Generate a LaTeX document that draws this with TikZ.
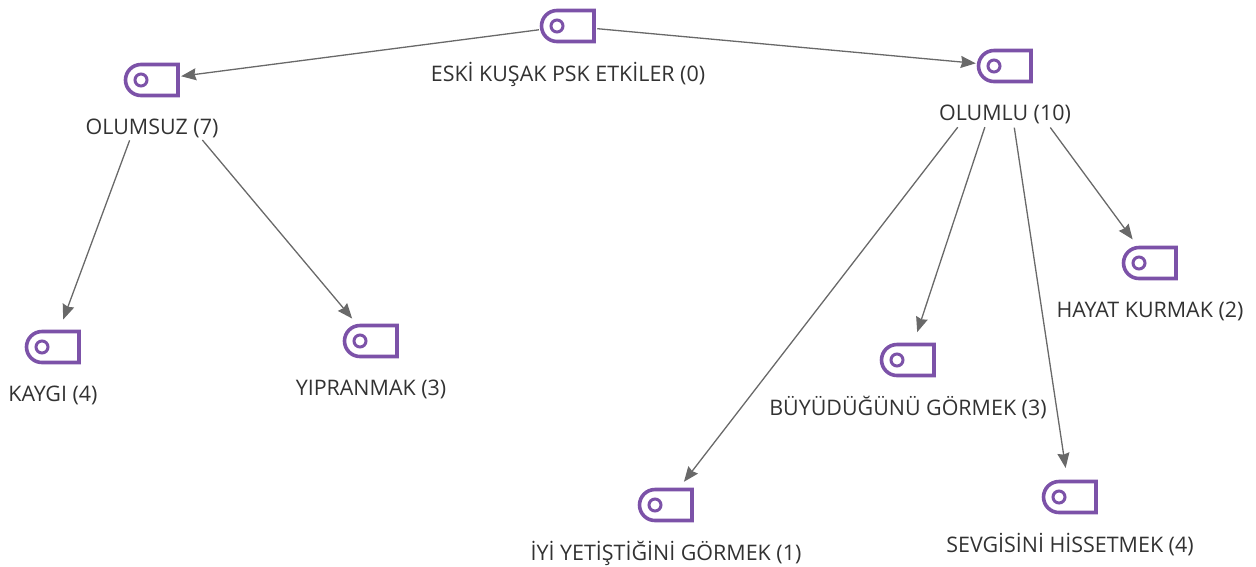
\documentclass[tikz,border=0pt]{standalone}
\usepackage{fontspec}
\setmainfont{Open Sans}
\usetikzlibrary{arrows, arrows.meta}
\usetikzlibrary{calc}
\definecolor{tagpurple}{RGB}{124,82,168}
\definecolor{linkgray}{RGB}{105,105,105}
\definecolor{textgray}{RGB}{50,50,50}
\def\u{0.02cm}
\tikzset{
  iconspot/.style={circle, inner sep=0pt, minimum size=58*\u},
  tagline/.style={draw=tagpurple, line width=3.6*\u, line join=miter},
  codelabel/.style={inner sep=0pt, text=textgray, font=\fontsize{12.2pt}{14pt}\selectfont},
  codelink/.style={draw=linkgray, line width=1.3*\u, -{Stealth[length=15*\u, width=12*\u, inset=1.5*\u]}}
}
\begin{document}
\begin{tikzpicture}[x=0.02cm, y=-0.02cm]
      \useasboundingbox (0,0) rectangle (1256,566);
      \foreach \name/\ix/\iy/\txt in {
          root/568/26/{ESKİ KUŞAK PSK ETKİLER (0)},
          olumsuz/152/80/{OLUMSUZ (7)},
          olumlu/1005/66/{OLUMLU (10)},
          kaygi/53/347/{KAYGI (4)},
          yipranmak/371/341/{YIPRANMAK (3)},
          buyudugunu/908/360/{BÜYÜDÜĞÜNÜ GÖRMEK (3)},
          yetistigini/666/505/{İYİ YETİŞTİĞİNİ GÖRMEK (1)},
          sevgisini/1070/497/{SEVGİSİNİ HİSSETMEK (4)},
          hayat/1150/263/{HAYAT KURMAK (2)}} {
        \node[iconspot] (\name) at (\ix,\iy) {};
        \draw[tagline] ($(\name)+(26,-15.5)$) -- ($(\name)+(-11,-15.5)$)
          arc[start angle=90, end angle=270, radius=15.5*\u]
          -- ($(\name)+(26,15.5)$) -- cycle;
        \draw[tagline, line width=3*\u] ($(\name)+(-11,0)$) circle[radius=6*\u];
        \node[codelabel] (\name-label) at ($(\name)+(0,48)$) {\txt};
      }

      \draw[codelink] (root) -- (olumsuz);
      \draw[codelink] (root) -- (olumlu);
      \draw[codelink, shorten <=35*\u] (olumsuz) -- (kaygi);
      \draw[codelink, shorten <=49*\u] (olumsuz) -- (yipranmak);
      \draw[codelink, shorten <=48*\u] (olumlu) -- (yetistigini);
      \draw[codelink, shorten <=35*\u] (olumlu) -- (buyudugunu);
      \draw[codelink, shorten <=33*\u] (olumlu) -- (sevgisini);
      \draw[codelink, shorten <=47*\u] (olumlu) -- (hayat);
    \end{tikzpicture}
\end{document}
